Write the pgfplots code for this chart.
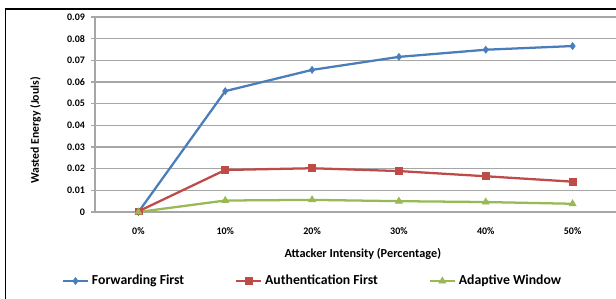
\documentclass[border=0pt]{standalone}
\usepackage{fontspec}
\setmainfont{Carlito}
\usepackage{pgfplots}
\pgfplotsset{compat=1.18}
\definecolor{cblue}{HTML}{4A7EBB}
\definecolor{cred}{HTML}{BE4B48}
\definecolor{cgreen}{HTML}{98B954}
\definecolor{cgrid}{HTML}{A6A6A6}
\begin{document}
\begin{tikzpicture}
\useasboundingbox (0pt,0pt) rectangle (462pt,223.5pt);
\clip (0pt,0pt) rectangle (462pt,223.5pt);
\draw[black, line width=0.9pt] (4.1pt,-2pt) -- (4.1pt,216.75pt) -- (466pt,216.75pt);
\begin{axis}[
  at={(71.25pt,64.5pt)}, anchor=south west,
  scale only axis, width=390.75pt, height=146.25pt,
  xmin=-0.5, xmax=5.5, ymin=0, ymax=0.09,
  xtick={0,1,2,3,4,5},
  xticklabels={0\%,10\%,20\%,30\%,40\%,50\%},
  ytick={0,0.01,0.02,0.03,0.04,0.05,0.06,0.07,0.08,0.09},
  yticklabels={0,0.01,0.02,0.03,0.04,0.05,0.06,0.07,0.08,0.09},
  scaled y ticks=false,
  axis x line*=bottom, axis y line*=left,
  axis line style={cgrid, line width=0.8pt, -},
  ymajorgrids, grid style={cgrid, line width=0.8pt},
  tick align=outside, major tick length=3pt,
  xtick style={draw=none},
  ytick style={cgrid, line width=0.8pt},
  tick label style={font=\fontsize{7.5}{9}\selectfont\bfseries},
  /pgf/number format/assume math mode=true,
  xticklabel style={yshift=-5pt},
  yticklabel style={xshift=-1pt},
  xlabel={Attacker Intensity (Percentage)},
  xlabel style={font=\fontsize{9.2}{11}\selectfont\bfseries, at={(axis description cs:0.514,-0.215)}, anchor=center},
  ylabel={Wasted Energy (Jouls)},
  ylabel style={font=\fontsize{8.8}{10}\selectfont\bfseries, at={(axis description cs:-0.114,0.418)}, anchor=center},
  legend columns=3,
  legend style={at={(axis description cs:0.418,-0.354)}, anchor=center, draw=none, fill=none,
    font=\fontsize{10.3}{12}\selectfont\bfseries,
    /tikz/every even column/.append style={column sep=36pt},
    inner sep=0pt},
  legend cell align=left,
  legend image code/.code={\draw[mark repeat=2,mark phase=2] plot coordinates {(0,0)(9.5pt,0)(19pt,0)};},
]
\addplot[cblue, line width=1.7pt, mark=diamond*, mark size=2.6pt, mark options={line width=0.5pt}]
  coordinates {(0,0) (1,0.0558) (2,0.0656) (3,0.0716) (4,0.0749) (5,0.0766)};
\addlegendentry{Forwarding First}
\addplot[cred, line width=1.7pt, mark=square*, mark size=2.6pt, mark options={line width=0.5pt}]
  coordinates {(0,0.0003) (1,0.0194) (2,0.0202) (3,0.0189) (4,0.0165) (5,0.0140)};
\addlegendentry{Authentication First}
\addplot[cgreen, line width=1.7pt, mark=triangle*, mark size=3pt, mark options={line width=0.5pt}]
  coordinates {(0,0) (1,0.0053) (2,0.0056) (3,0.0050) (4,0.0046) (5,0.0038)};
\addlegendentry{Adaptive Window}
\end{axis}
\end{tikzpicture}
\end{document}
